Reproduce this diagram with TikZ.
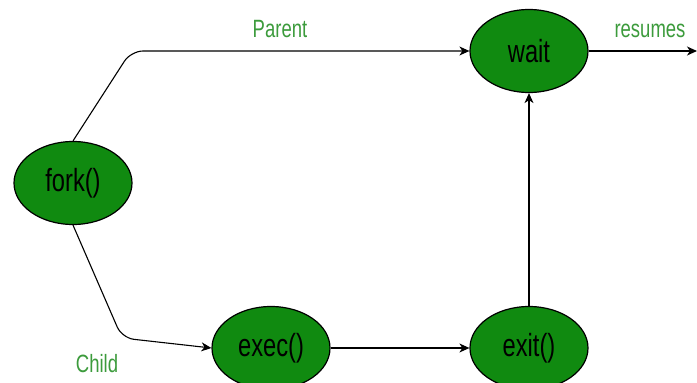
\documentclass[tikz,border=0pt]{standalone}
\usepackage{fontspec}
\usepackage{xcolor}
\setmainfont{Liberation Sans}
\newfontfamily\narrowfont[FakeStretch=0.74]{Liberation Sans}
\definecolor{call_green}{RGB}{16,138,16}
\definecolor{label_green}{RGB}{60,155,60}
\usepackage{tikz}
\usetikzlibrary{shapes.geometric,arrows.meta}

\begin{document}
\begin{tikzpicture}[x=1pt, y=-1pt,
  call/.style={ellipse, draw=black, line width=1.2pt, fill=call_green, minimum width=118pt, minimum height=83pt, inner sep=0pt, font=\narrowfont\fontsize{32}{32}\selectfont},
  branch/.style={font=\narrowfont\fontsize{25}{25}\selectfont, text=label_green},
  flow/.style={draw=black, line width=1.1pt, -{Stealth[length=10pt, width=9pt, inset=3pt]}}]
\useasboundingbox (0, 0) rectangle (697, 383);

\node[call] (fork) at (73, 183) {fork()};
\node[call] (wait) at (529, 51) {wait};
\node[call] (exec) at (271, 348) {exec()};
\node[call] (exit) at (529, 348) {exit()};
\coordinate (resumed) at (697, 51);

\draw [flow, rounded corners=12pt] (fork.north) -- (131, 51) -- (wait.west);
\draw [flow, rounded corners=12pt] (fork.south) -- (122, 338) -- (exec.west);
\draw [flow] (exec.east) -- (exit.west);
\draw [flow] (exit.north) -- (wait.south);
\draw [flow] (wait.east) -- (resumed);

\node[branch] (parent) at (280, 29) {Parent};
\node[branch] (child) at (97, 364) {Child};
\node[branch] (resumes) at (650, 31) {resumes};

\end{tikzpicture}
\end{document}
